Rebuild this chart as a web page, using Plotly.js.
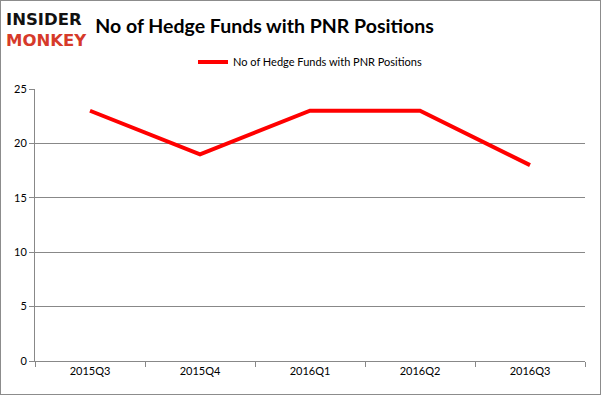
<!DOCTYPE html>
<html><head><meta charset="utf-8">
<script src="https://cdn.plot.ly/plotly-3.0.1.min.js"></script>
<style>html,body{margin:0;padding:0;background:#fff;}#chart{width:599px;height:393px;border:1px solid #8c8c8c;}</style>
</head><body><div id="chart"></div>
<script>
var categories = ["2015Q3","2015Q4","2016Q1","2016Q2","2016Q3"];
var hedgeFunds = [23,19,23,23,18];
var yTicks = [0,5,10,15,20,25];
var seriesName = "No of Hedge Funds with PNR Positions";

var trace = {x: categories, y: hedgeFunds, type: "scatter", mode: "lines", name: seriesName,
  line: {color: "#ff0000", width: 4}};
var layout = {
  width: 599, height: 393,
  margin: {l: 34, r: 15, t: 88, b: 33},
  paper_bgcolor: "#fff", plot_bgcolor: "#fff",
  font: {family: "Lato, 'Open Sans', sans-serif", size: 11, color: "#000"},
  title: {text: "<b>No of Hedge Funds with PNR Positions</b>", x: 0.44, xanchor: "center", y: 0.937, yanchor: "middle",
    font: {family: "Lato, sans-serif", size: 19.5, color: "#000"}},
  showlegend: true,
  legend: {orientation: "h", x: 0.5, xanchor: "center", y: 1.099, yanchor: "middle", font: {size: 11}},
  xaxis: {type: "category", range: [-0.5, 4.5], tickson: "boundaries", ticks: "outside", ticklen: 5,
    tickcolor: "#888", showline: true, linecolor: "#888", linewidth: 1, showgrid: false, fixedrange: true},
  yaxis: {range: [0, 25], tickvals: yTicks, ticks: "outside", ticklen: 5, tickcolor: "#888",
    showline: true, linecolor: "#888", gridcolor: "#888", gridwidth: 1, zeroline: false},
  annotations: [
    {text: "<b>INSIDER</b>", xref: "paper", yref: "paper", x: -0.056, y: 1.257, xanchor: "left", yanchor: "middle", showarrow: false,
      font: {family: "DejaVu Sans", size: 16.5, color: "#111"}},
    {text: "<b>MONKEY</b>", xref: "paper", yref: "paper", x: -0.056, y: 1.178, xanchor: "left", yanchor: "middle", showarrow: false,
      font: {family: "DejaVu Sans", size: 16.5, color: "#d63a2a"}}
  ]
};
Plotly.newPlot("chart", [trace], layout, {displayModeBar: false, staticPlot: true});
</script></body></html>
